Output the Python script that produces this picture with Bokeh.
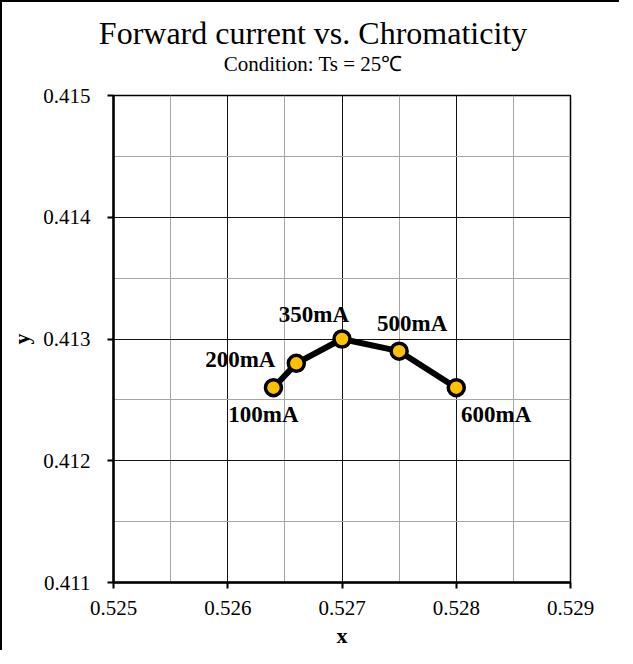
from bokeh.plotting import figure
from bokeh.layouts import column
from bokeh.models import Range1d, FixedTicker, NumeralTickFormatter, Label, ColumnDataSource, Div
from bokeh.embed import file_html
from bokeh.resources import INLINE

# ---- data ----
title_text = "Forward current vs. Chromaticity"
subtitle_text = "Condition: Ts = 25℃"
currents = ["100mA", "200mA", "350mA", "500mA", "600mA"]
cx = [0.5264, 0.5266, 0.5270, 0.5275, 0.5280]
cy = [0.4126, 0.4128, 0.4130, 0.4129, 0.4126]
x_ticks = [0.525, 0.526, 0.527, 0.528, 0.529]
x_minor = [0.5255, 0.5265, 0.5275, 0.5285]
y_ticks = [0.411, 0.412, 0.413, 0.414, 0.415]
y_minor = [0.4115, 0.4125, 0.4135, 0.4145]

# label offsets (screen px) per point: style/layout only
label_offsets = [(-10, -27), (-56, 4), (-28, 25), (13, 28), (40, -27)]

FONT = "Liberation Serif"

header = Div(width=617, height=80, margin=0, text=(
    '<div style="position:relative;width:617px;height:80px;'
    'font-family:\'Liberation Serif\',serif;color:black;">'
    '<div style="position:absolute;left:0;top:15px;width:622px;text-align:center;'
    'font-size:32px;line-height:32px;white-space:nowrap;">' + title_text + '</div>'
    '<div style="position:absolute;left:0;top:52px;width:622px;text-align:center;'
    'font-size:21px;line-height:21px;white-space:nowrap;">' + subtitle_text + '</div>'
    '</div>'))

p = figure(width=617, height=568, output_backend="svg", toolbar_location=None,
           x_range=Range1d(0.525, 0.529), y_range=Range1d(0.411, 0.415),
           min_border_left=111, min_border_right=49, min_border_top=13, min_border_bottom=67)

p.outline_line_color = "black"
p.outline_line_width = 1.5

for ax in (p.xaxis[0], p.yaxis[0]):
    ax.axis_line_width = 2.5
    ax.axis_line_color = "black"
    ax.major_tick_line_width = 2
    ax.major_tick_line_color = "black"
    ax.major_tick_out = 6
    ax.major_tick_in = 0
    ax.minor_tick_out = 0
    ax.minor_tick_in = 0
    ax.major_label_text_font = FONT
    ax.major_label_text_font_size = "21px"
    ax.major_label_text_color = "black"
    ax.axis_label_text_font = FONT
    ax.axis_label_text_font_size = "22px"
    ax.axis_label_text_font_style = "bold"
    ax.axis_label_text_color = "black"
    ax.formatter = NumeralTickFormatter(format="0.000")

p.xaxis[0].ticker = FixedTicker(ticks=x_ticks, minor_ticks=x_minor)
p.yaxis[0].ticker = FixedTicker(ticks=y_ticks, minor_ticks=y_minor)
p.xaxis[0].axis_label = "x"
p.yaxis[0].axis_label = "y"
p.xaxis[0].major_label_standoff = 12
p.yaxis[0].major_label_standoff = 17
p.xaxis[0].axis_label_standoff = 5
p.yaxis[0].axis_label_standoff = 6

for g in (p.xgrid[0], p.ygrid[0]):
    g.grid_line_color = "#111111"
    g.grid_line_width = 1
    g.minor_grid_line_color = "#a6a6a6"
    g.minor_grid_line_width = 1

src = ColumnDataSource(dict(x=cx, y=cy, name=currents))
p.line("x", "y", source=src, line_color="black", line_width=6)
p.scatter("x", "y", source=src, size=16, fill_color="#FFC000", line_color="black", line_width=3.5)

for i in range(len(currents)):
    dx, dy = label_offsets[i]
    p.add_layout(Label(x=cx[i], y=cy[i], text=currents[i], x_offset=dx, y_offset=dy,
                       text_align="center", text_baseline="middle", text_font=FONT,
                       text_font_size="23px", text_font_style="bold", text_color="black"))

layout = column(header, p, spacing=0)
layout.styles = {"border-left": "2px solid black", "border-top": "2px solid black"}

open("out.html", "w").write(file_html(layout, INLINE))
